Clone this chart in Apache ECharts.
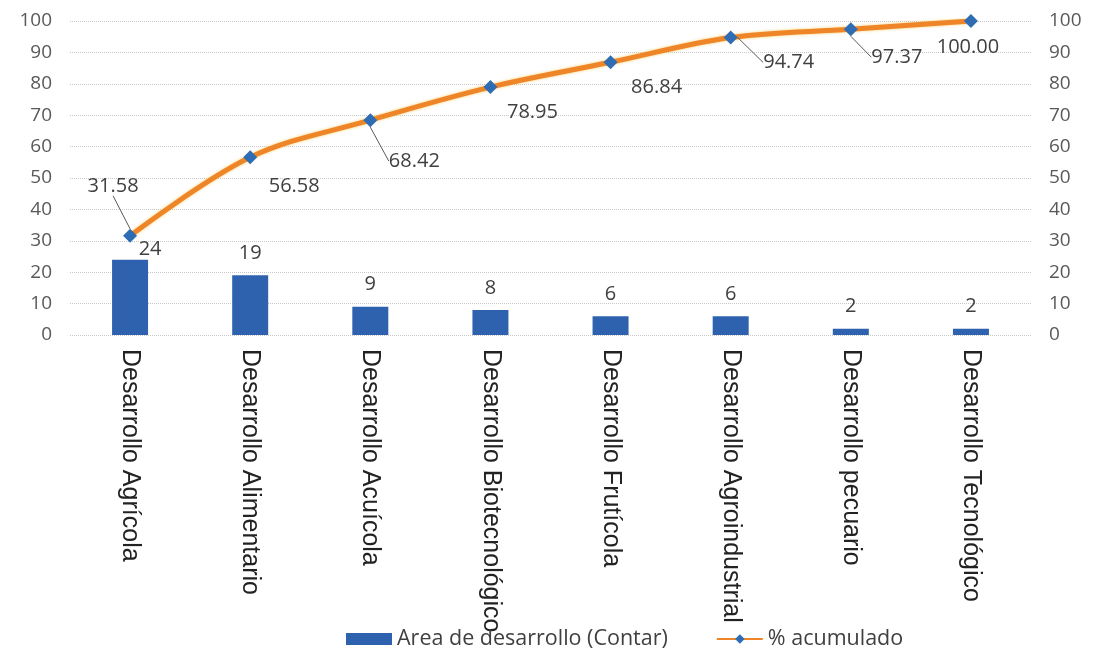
<!DOCTYPE html>
<html><head><meta charset="utf-8">
<script src="https://cdn.jsdelivr.net/npm/echarts@6/dist/echarts.min.js"></script>
<style>html,body{margin:0;padding:0;background:#fff}#c{width:1095px;height:657px}</style>
</head><body><div id="c"></div>
<script>
const categories = ["Desarrollo Agrícola","Desarrollo Alimentario","Desarrollo Acuícola","Desarrollo Biotecnológico","Desarrollo Frutícola","Desarrollo Agroindustrial","Desarrollo pecuario","Desarrollo Tecnológico"];
const counts = [24,19,9,8,6,6,2,2];
const cumulative = [31.58,56.58,68.42,78.95,86.84,94.74,97.37,100.00];
const yTicks = [0,10,20,30,40,50,60,70,80,90,100];

// label offsets (presentation only)
const lineLabelOffsets = [[-17,-50],[44,29],[44,41],[42,25],[46,25],[58,25],[46,28],[-3,26]];
const lineLabelLeader = [true,false,true,false,false,true,true,false];
const barLabelOffsets = [[20,12],[0,0],[0,0],[0,0],[0,0],[0,0],[0,0],[0,0]];

const chart = echarts.init(document.getElementById('c'));
const font = "'Open Sans', 'Noto Sans', sans-serif";
const yAxisCommon = {
  type:'value', min:0, max:100, interval:10,
  axisLine:{show:false}, axisTick:{show:false},
  splitLine:{show:true, lineStyle:{type:'dotted', color:'#c8c8c8', width:1}},
  axisLabel:{color:'#595959', fontSize:19, fontFamily:font, margin:18}
};
chart.setOption({
  animation:false,
  grid:{left:70, right:64, top:21, bottom:322},
  legend:{
    bottom:2, left:341, itemGap:48, itemWidth:46, itemHeight:12,
    textStyle:{color:'#404040', fontSize:21.5, fontFamily:font},
    data:[{name:'Area de desarrollo (Contar)', icon:'rect'},{name:'% acumulado'}]
  },
  xAxis:{
    type:'category', data:categories,
    axisLine:{show:false}, axisTick:{show:false},
    axisLabel:{rotate:-90, color:'#222222', fontSize:25, fontFamily:"'Liberation Sans', Arial, sans-serif", margin:14, interval:0}
  },
  yAxis:[Object.assign({position:'left'}, yAxisCommon), Object.assign({position:'right'}, yAxisCommon, {splitLine:{show:false}})],
  series:[
    {
      name:'Area de desarrollo (Contar)', type:'bar', yAxisIndex:0, barWidth:36,
      itemStyle:{color:'#2E62AE'},
      data:counts.map((v,i)=>({value:v, label:{offset:barLabelOffsets[i]}})),
      label:{show:true, position:'top', distance:12, color:'#404040', fontSize:20, fontFamily:font}
    },
    {
      name:'% acumulado', type:'line', yAxisIndex:1, smooth:0.35,
      symbol:'diamond', symbolSize:14,
      itemStyle:{color:'#2E6DB4'},
      lineStyle:{color:'#EE8528', width:5, shadowColor:'rgba(250,200,90,0.9)', shadowBlur:3},
      data:cumulative.map((v,i)=>({value:v, labelLine:{show:lineLabelLeader[i], lineStyle:{color:'#595959', width:1}}})),
      label:{show:true, position:'inside', color:'#404040', fontSize:20, fontFamily:font, formatter:p=>p.value.toFixed(2)},
      labelLine:{show:false},
      labelLayout:function(p){ const o=lineLabelOffsets[p.dataIndex]; return {dx:o[0], dy:o[1]}; },
      z:5
    }
  ]
});
</script></body></html>
